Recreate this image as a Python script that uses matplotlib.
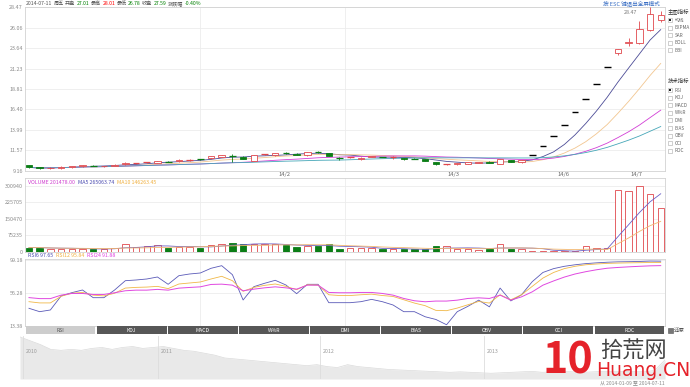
import numpy as np
import pandas as pd
import matplotlib
matplotlib.use('Agg')
import matplotlib.pyplot as plt
from matplotlib.patches import Rectangle

plt.rcParams['font.family'] = ['Noto Sans CJK SC', 'DejaVu Sans']

W, H = 690, 387

# daily candles 2014-01-09 .. 2014-07-11
opens = [9.78, 9.55, 9.42, 9.45, 9.58, 9.68, 9.78, 9.66, 9.74, 9.90,
         10.02, 10.10, 10.10, 10.26, 10.28, 10.42, 10.52, 10.62, 10.80, 10.98,
         10.83, 10.35, 11.08, 10.96, 11.28, 11.18, 10.96, 11.40, 11.26, 10.74,
         10.73, 10.52, 10.78, 10.76, 10.74, 10.67, 10.61, 10.50, 10.18, 9.90,
         9.90, 9.97, 10.05, 10.23, 9.98, 10.43, 10.16, 10.97, 12.07, 13.28,
         14.60, 16.07, 17.68, 19.45, 21.39, 23.09, 24.20, 24.20, 25.80, 27.01]
highs = [9.88, 9.60, 9.58, 9.66, 9.75, 9.88, 9.82, 9.76, 9.92, 10.16,
         10.12, 10.22, 10.34, 10.30, 10.50, 10.55, 10.60, 10.92, 11.06, 11.10,
         10.90, 11.02, 11.18, 11.30, 11.34, 11.22, 11.36, 11.46, 11.30, 10.78,
         10.82, 10.74, 10.90, 10.78, 10.91, 10.70, 10.64, 10.54, 10.22, 9.98,
         10.10, 10.18, 10.21, 10.26, 10.55, 10.47, 10.42, 10.97, 12.07, 13.28,
         14.60, 16.07, 17.68, 19.45, 21.39, 23.53, 24.80, 26.85, 28.47, 28.01]
lows = [9.45, 9.36, 9.38, 9.40, 9.52, 9.62, 9.70, 9.60, 9.70, 9.86,
        9.96, 10.04, 10.05, 10.18, 10.24, 10.36, 10.44, 10.58, 10.76, 10.24,
        10.50, 10.30, 11.02, 10.92, 11.18, 10.96, 10.92, 11.30, 10.85, 10.45,
        10.70, 10.48, 10.74, 10.72, 10.51, 10.48, 10.55, 10.28, 9.88, 9.82,
        9.86, 9.94, 10.02, 10.06, 9.94, 10.20, 10.12, 10.97, 12.07, 13.28,
        14.60, 16.07, 17.68, 19.45, 21.39, 22.89, 23.88, 24.10, 25.70, 26.78]
closes = [9.55, 9.42, 9.52, 9.62, 9.70, 9.82, 9.74, 9.72, 9.88, 10.12,
          10.05, 10.13, 10.30, 10.22, 10.45, 10.45, 10.50, 10.88, 11.02, 10.94,
          10.55, 10.98, 11.12, 11.25, 11.24, 11.00, 11.32, 11.36, 10.88, 10.70,
          10.77, 10.70, 10.85, 10.75, 10.76, 10.52, 10.58, 10.32, 9.93, 9.94,
          10.06, 10.14, 10.18, 10.09, 10.50, 10.24, 10.38, 10.97, 12.07, 13.28,
          14.60, 16.07, 17.68, 19.45, 21.39, 23.53, 24.40, 25.94, 27.70, 27.59]
volumes = [20000, 20000, 15000, 15000, 15000, 15000, 12000, 12000, 20000, 38000,
           21500, 26000, 34000, 18000, 24500, 24500, 18000, 30700, 38000, 43000,
           35300, 35000, 35000, 35000, 30700, 23000, 27600, 27600, 38000, 15000,
           18000, 20000, 18000, 12000, 12000, 12000, 12000, 12000, 26000, 26000,
           15000, 15000, 7700, 15000, 38000, 15000, 15000, 4600, 3000, 3000,
           3500, 4000, 26000, 19000, 17000, 282000, 276000, 300940, 264901, 201478]

rsi6 = [36.4, 32.0, 34.2, 52.4, 56.7, 60.2, 50.2, 50.2, 60.2, 72.3,
        73.2, 74.5, 77.1, 67.6, 78.8, 81.0, 82.3, 88.4, 91.8, 80.1,
        47.2, 64.5, 68.9, 72.8, 66.7, 55.4, 67.6, 67.6, 43.7, 43.7,
        43.7, 45.0, 48.0, 45.0, 40.7, 32.0, 32.0, 25.4, 21.9, 15.0,
        32.0, 39.0, 47.0, 38.3, 62.7, 46.0, 54.0, 71.0, 83.0, 88.0,
        91.0, 93.0, 94.5, 95.5, 96.3, 96.8, 97.0, 97.3, 97.8, 97.65]
rsi12 = [45.0, 43.4, 43.4, 52.0, 56.0, 57.0, 53.5, 52.5, 56.0, 62.7,
         63.6, 64.0, 64.9, 62.0, 68.0, 69.3, 70.6, 74.5, 78.0, 72.3,
         58.5, 63.6, 66.2, 68.0, 64.9, 60.6, 67.0, 66.6, 54.0, 53.0,
         53.0, 54.0, 54.8, 53.0, 51.8, 47.5, 43.2, 39.8, 33.7, 33.3,
         36.7, 41.0, 45.3, 43.2, 54.0, 47.5, 54.0, 64.9, 75.7, 83.0,
         88.0, 91.0, 93.0, 94.0, 94.8, 95.2, 95.5, 95.7, 95.9, 95.84]
rsi24 = [50.3, 49.0, 49.0, 53.5, 55.7, 55.7, 54.4, 54.4, 56.6, 59.2,
         60.0, 60.0, 61.0, 60.0, 62.6, 63.5, 64.3, 67.4, 67.8, 66.5,
         59.2, 61.3, 63.0, 64.3, 63.0, 61.3, 66.5, 66.5, 57.0, 56.6,
         56.6, 57.0, 57.0, 55.7, 53.5, 49.2, 46.2, 44.9, 45.8, 45.8,
         47.0, 49.2, 50.0, 49.2, 53.5, 47.0, 51.3, 57.8, 66.5, 72.0,
         77.0, 81.0, 84.0, 86.5, 88.5, 89.5, 90.3, 91.0, 91.6, 91.88]

price_ticks = [9.16, 11.57, 13.99, 16.40, 18.81, 21.23, 23.64, 26.06, 28.47]
vol_ticks = [0, 75235, 150470, 225705, 300940]
rsi_ticks = [13.38, 56.28, 99.18]
month_pos = [23.9, 39.6, 49.9, 56.7]
month_labels = ['14/2', '14/3', '14/6', '14/7']
vgrid_pos = [16, 29.5]

# overview history 2010 .. 2014 (navigator)
nav_vals = [44, 40, 36, 31, 30, 31, 30, 32, 33, 31, 33, 34, 32, 33, 34, 32,
            30, 29, 27, 25, 22, 21, 20, 19, 18, 17, 16, 15, 14, 15, 13, 12,
            15, 13, 12, 11, 10, 9.5, 9, 8.5, 8, 7.5, 7, 7.5, 7, 6.5, 6, 6.5,
            7, 7.5, 8, 7, 7.5, 8, 7.5, 7, 7.5, 8, 8, 8, 8, 7.5, 9, 20]
year_pos = [0.3, 13.5, 29.3, 45.3]
year_labels = ['2010', '2011', '2012', '2013']

main_ind = ['均线', 'EXPMA', 'SAR', 'BOLL', 'BBI']
tech_ind = ['RSI', 'KDJ', 'MACD', 'W%R', 'DMI', 'BIAS', 'OBV', 'CCI', 'ROC']

header = [('2014-07-11', '#555555'), ('周五', '#555555'), ('开盘', '#555555'),
          ('27.01', 'green'), ('最高', '#555555'), ('28.01', 'red'),
          ('最低', '#555555'), ('26.78', 'green'), ('收盘', '#555555'),
          ('27.59', 'green'), ('涨跌幅', '#555555'), ('-0.40%', 'green')]

RED = '#e0474c'
GREEN = '#0b7d16'
GRID = '#ececec'
EDGE = '#d2d2d2'
TXT = '#8a8a8a'

idx = np.arange(len(closes))
cl = pd.Series(closes)
vs = pd.Series(volumes)

fig = plt.figure(figsize=(W / 100, H / 100), dpi=100)
fig.patch.set_facecolor('white')
rend = fig.canvas.get_renderer()


def add_ax(x0, y0, x1, y1):
    return fig.add_axes([x0 / W, 1 - y1 / H, (x1 - x0) / W, (y1 - y0) / H])


def ftext(x, y, s, **kw):
    kw.setdefault('fontsize', 4.3)
    kw.setdefault('va', 'center')
    return fig.text(x / W, 1 - y / H, s, **kw)


def text_row(x, y, parts, gap=2.0, **kw):
    # lay out coloured text pieces one after another
    for s, c in parts:
        t = ftext(x, y, s, color=c, **kw)
        x += t.get_window_extent(renderer=rend).width + gap


def style(ax, yt, fmt):
    for sp in ax.spines.values():
        sp.set_color(EDGE)
        sp.set_linewidth(0.6)
    ax.set_xlim(-0.37, 59.4)
    ax.set_yticks(yt)
    ax.set_yticklabels([fmt(v) for v in yt])
    ax.tick_params(length=0, labelsize=3.9, labelcolor=TXT, pad=1.5)
    for v in yt:
        ax.axhline(v, color=GRID, lw=0.6, zorder=0)
    for v in vgrid_pos:
        ax.axvline(v, color=GRID, lw=0.6, zorder=0)


# ---- main price panel
ax = add_ax(25, 7.3, 665, 170.7)
style(ax, price_ticks, lambda v: '%.2f' % v)
ax.set_ylim(9.16, 28.47)
ax.set_xticks(month_pos)
ax.set_xticklabels(month_labels)
ax.tick_params(axis='x', labelsize=4.2, labelcolor='#666666', pad=1.2)

for i in idx:
    o, h, l, c = opens[i], highs[i], lows[i], closes[i]
    if o == h == l == c:
        ax.hlines(c, i - 0.32, i + 0.32, color='black', lw=1.0, zorder=4)
        continue
    up = c >= o
    col = RED if up else GREEN
    ax.vlines(i, l, h, color=col, lw=0.6, zorder=3)
    if abs(c - o) < 0.05:
        ax.hlines(c, i - 0.32, i + 0.32, color=col, lw=0.9, zorder=4)
    else:
        ax.add_patch(Rectangle((i - 0.3, min(o, c)), 0.6, abs(c - o),
                               facecolor='white' if up else col,
                               edgecolor=col, lw=0.6, zorder=4))

ma_cols = {5: '#4b4b96', 10: '#f2c690', 20: '#d23ed6', 30: '#46a7b8'}
for n, colr in ma_cols.items():
    ax.plot(idx, cl.rolling(n, min_periods=1).mean(), color=colr, lw=0.6, zorder=2)
ax.text(58 - 1.2, 27.9, '28.47', fontsize=3.8, color='#777777', ha='right', va='center')

# ---- volume panel
axv = add_ax(25, 178.3, 665, 252)
style(axv, vol_ticks, lambda v: '%d' % v)
axv.set_ylim(0, 335500)
axv.set_xticks([])
for i in idx:
    up = closes[i] >= opens[i]
    col = RED if up else GREEN
    axv.bar(i, volumes[i], width=0.6, facecolor='white' if up else col,
            edgecolor=col, lw=0.6, zorder=3)
axv.plot(idx, vs.rolling(5, min_periods=1).mean(), color='#6a5fc8', lw=0.6, zorder=4)
axv.plot(idx, vs.rolling(10, min_periods=1).mean(), color='#f2b870', lw=0.6, zorder=4)

# ---- RSI panel
axr = add_ax(25, 259, 665, 326)
style(axr, rsi_ticks, lambda v: '%.2f' % v)
axr.set_ylim(13.38, 100.5)
axr.set_xticks([])
axr.plot(idx, rsi6, color='#5a5ab8', lw=0.6)
axr.plot(idx, rsi12, color='#f0b848', lw=0.6)
axr.plot(idx, rsi24, color='#e048e0', lw=0.7)

# ---- indicator tab bar
axt = add_ax(25, 326, 665, 334)
axt.set_xlim(0, len(tech_ind))
axt.set_ylim(0, 1)
axt.axis('off')
for k, name in enumerate(tech_ind):
    fc = '#cdcdcd' if k == 0 else '#575757'
    tc = '#555555' if k == 0 else 'white'
    axt.add_patch(Rectangle((k + 0.01, 0), 0.98, 1, facecolor=fc, edgecolor='none'))
    axt.text(k + 0.5, 0.45, name, fontsize=3.7, color=tc, ha='center', va='center')
fig.patches.append(Rectangle((668 / W, 1 - 332.5 / H), 5 / W, 5 / H, transform=fig.transFigure,
                             facecolor='#777777', edgecolor='#555555', lw=0.4))
ftext(674, 330, '还原', fontsize=3.9, color='#555555')

# ---- navigator
axn = add_ax(20, 336, 665, 379)
axn.axis('off')
axn.set_xlim(0, len(nav_vals) - 1)
axn.set_ylim(0, 45)
xn = np.arange(len(nav_vals))
axn.fill_between(xn, nav_vals, 0, color='#e9e9e9', lw=0)
axn.plot(xn, nav_vals, color='#dadada', lw=0.5)
for p, s in zip(year_pos, year_labels):
    axn.axvline(p, color='#dddddd', lw=0.6)
    axn.text(p + 0.25, 29, s, fontsize=3.8, color='#9a9a9a', va='center')

# ---- header texts
text_row(26, 3.6, header, gap=1.3, fontsize=3.7)
ftext(603, 3.4, '按 ESC 键退出全屏模式', color='#3a6fc4', fontsize=4.0)

text_row(28, 182.3, [('VOLUME 201478.00', '#d040d0'), ('MA5 265063.74', '#4b4bb0'),
                     ('MA10 146263.45', '#f0b040')], gap=3.0, fontsize=3.8)
text_row(28, 255.8, [('RSI6 97.65', '#4b4bb0'), ('RSI12 95.84', '#f0b040'),
                     ('RSI24 91.88', '#e040e0')], gap=3.0, fontsize=3.8)


# ---- right side indicator menu
def menu(y0, title, items):
    ftext(667.5, y0, title, color='#333333', fontsize=3.9)
    for k, s in enumerate(items):
        y = y0 + 8.3 + k * 7.6
        fig.patches.append(Rectangle((668 / W, 1 - (y + 2) / H), 4 / W, 4 / H,
                                     transform=fig.transFigure, facecolor='white',
                                     edgecolor='#aaaaaa', lw=0.4))
        if k == 0:
            fig.patches.append(Rectangle((669 / W, 1 - (y + 1) / H), 2 / W, 2 / H,
                                         transform=fig.transFigure, facecolor='#222222',
                                         edgecolor='none'))
        ftext(674.5, y, s, color='#666666', fontsize=3.4)


menu(11.7, '主图指标', main_ind)
menu(81.7, '技术指标', tech_ind)

# ---- watermark logo and range text
ftext(543, 361, '10', color='#e5222a', fontsize=31, fontweight='bold', style='italic')
ftext(600, 351, '拾荒网', color='#444444', fontsize=16)
ftext(596, 371, 'Huang.CN', color='#e5222a', fontsize=13.5,
      family=['Liberation Sans Narrow', 'DejaVu Sans'])
ftext(665, 383, '从 2014-01-09 至 2014-07-11', color='#888888', fontsize=3.6, ha='right')

fig.savefig('out.png', dpi=100, facecolor='white')
